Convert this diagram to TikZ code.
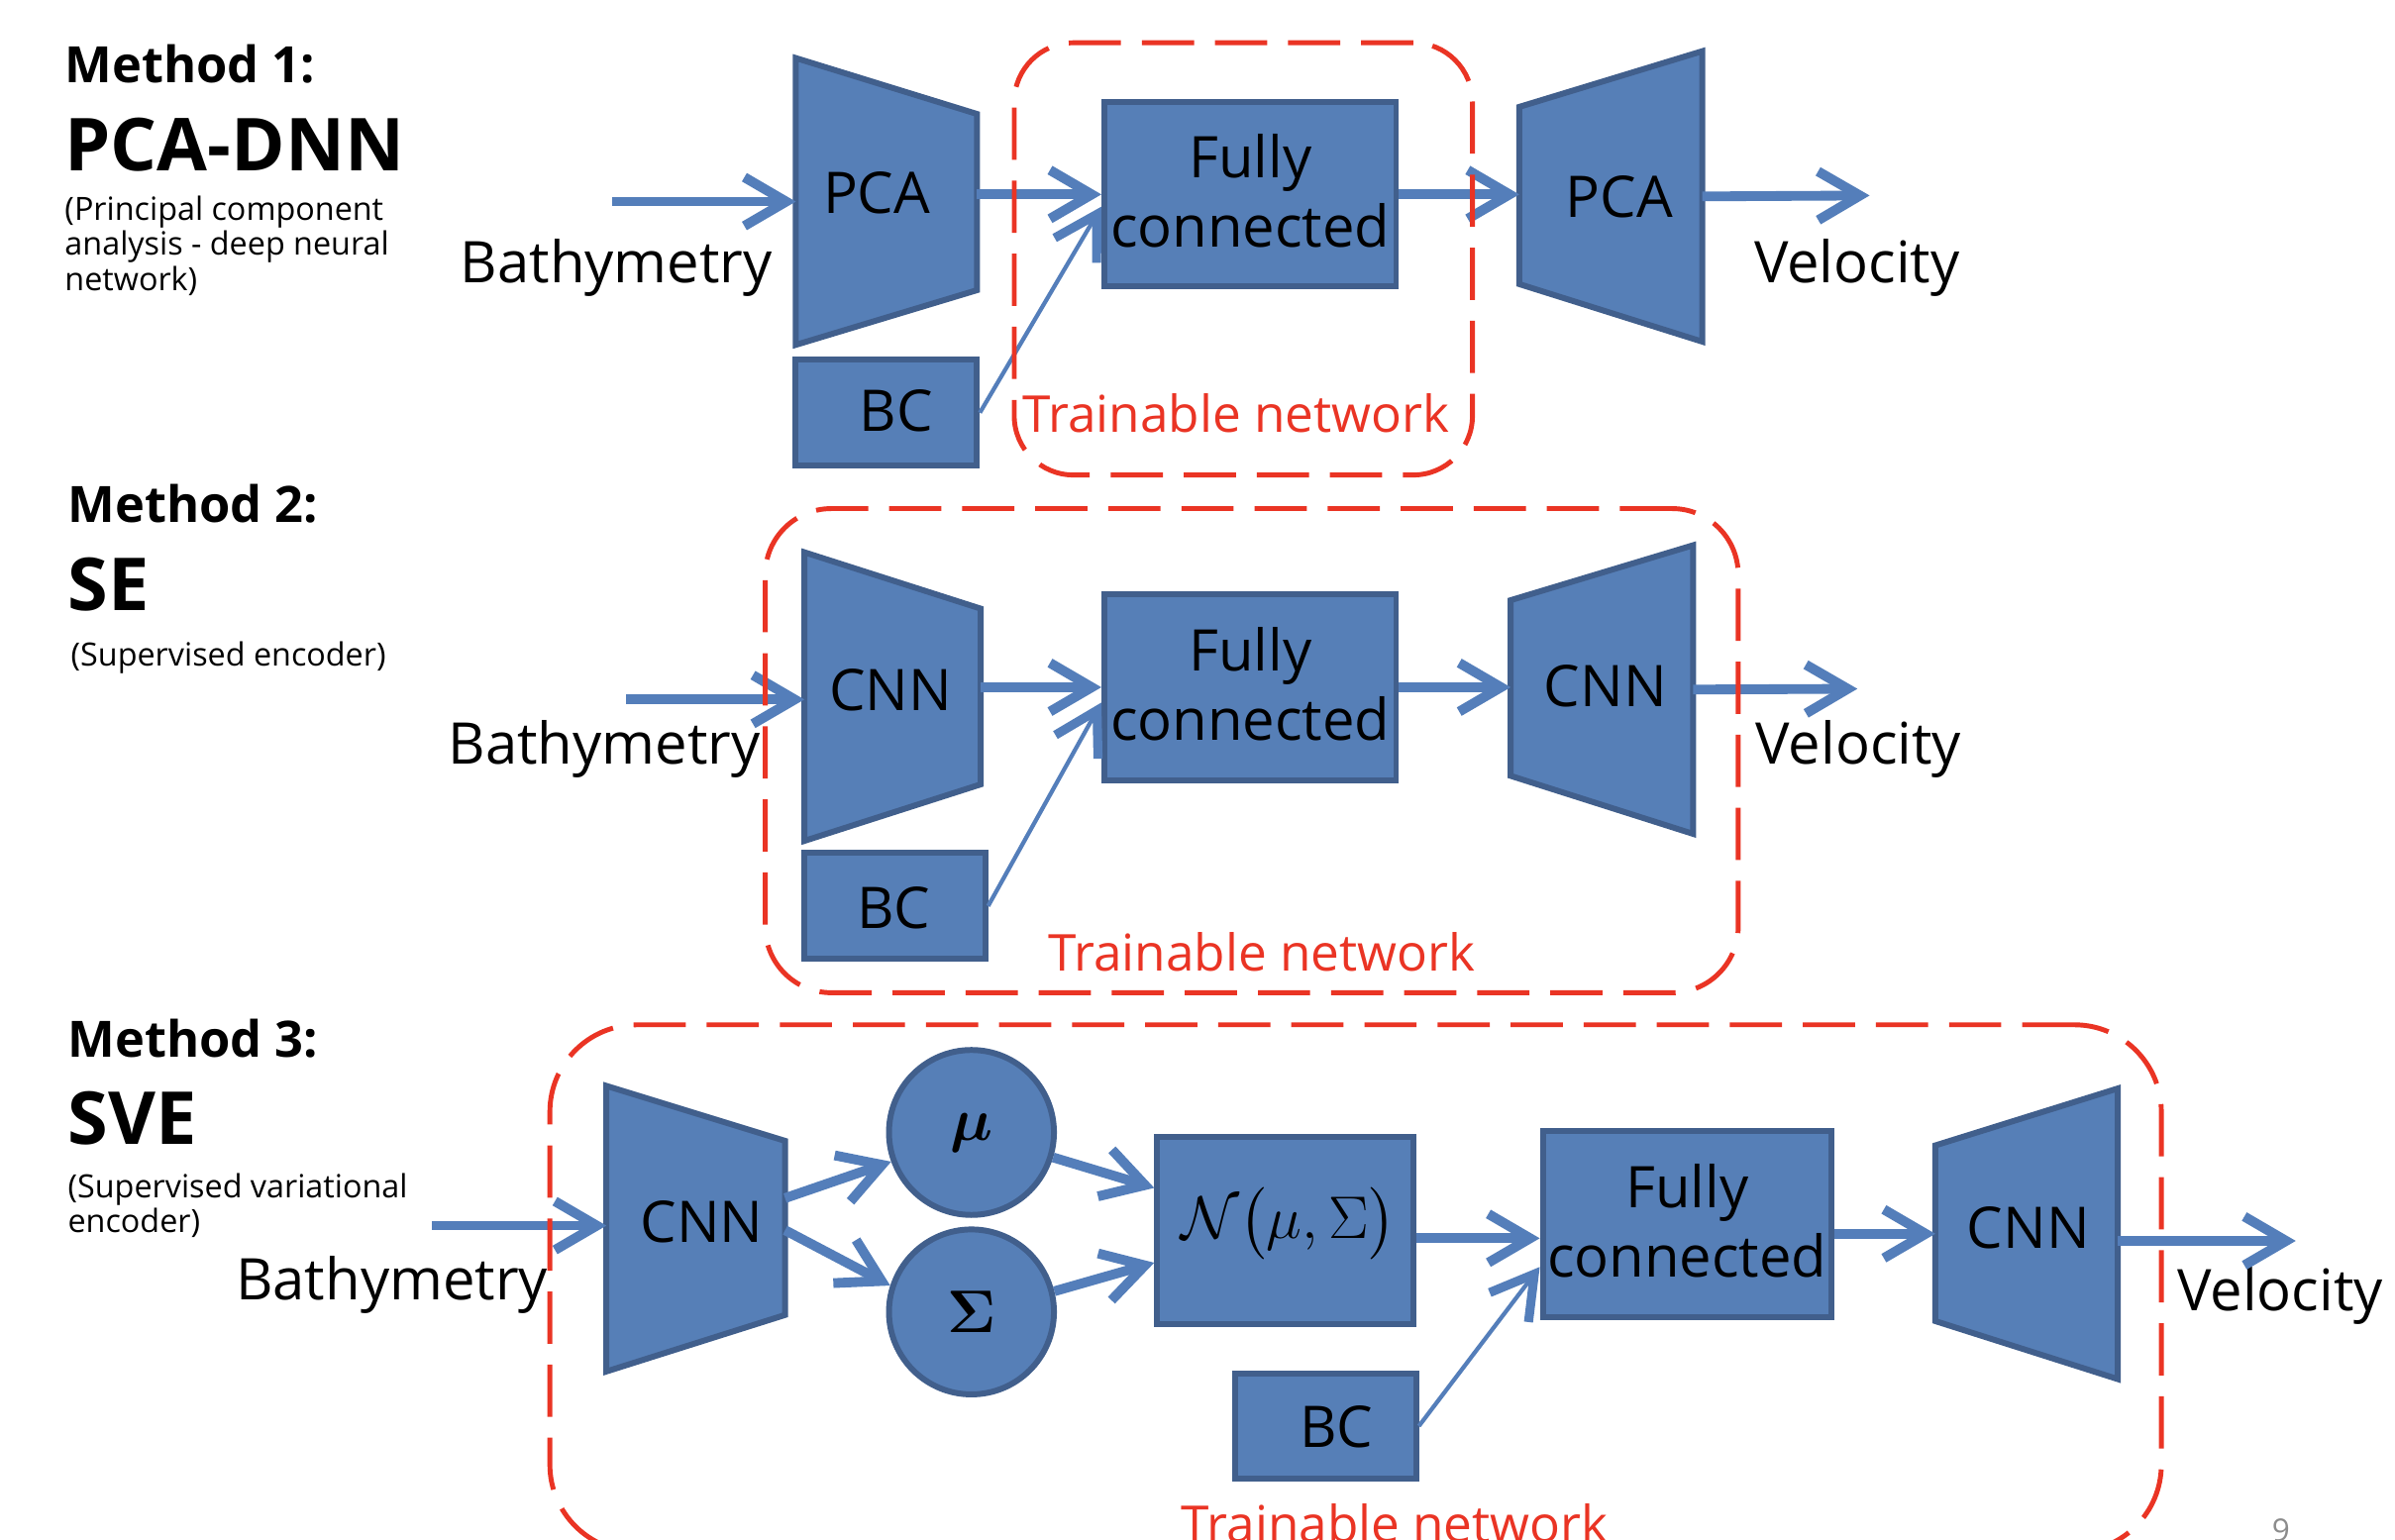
\documentclass[tikz,border=0pt]{standalone}
\usepackage{amsmath}
\usepackage{fontspec}
\setmainfont{Open Sans}
\usetikzlibrary{arrows.meta,calc,backgrounds,fit}

\newlength\uu \setlength\uu{0.01542cm}
\definecolor{bfill}{RGB}{86,127,183}
\definecolor{bline}{RGB}{65,95,140}
\definecolor{barrow}{RGB}{84,126,186}
\definecolor{tred}{RGB}{234,52,36}

\newcommand\lblf{\fontsize{16.5}{19.8}\selectfont}
\newcommand\trnf{\fontsize{14.6}{17}\selectfont}
\newcommand\hdf{\fontsize{14.4}{17}\selectfont\bfseries}
\newcommand\bigtf{\fontsize{21}{25}\selectfont\bfseries}
\newcommand\smf{\fontsize{9.2}{10.6}\selectfont}
\newcommand\mathf{\fontsize{17.5}{21}\selectfont}

\newcommand\encshape[3]{\begin{scope}[on background layer]\draw[shp] (#1.north west) -- ($(#1.north east)+(0,#2)$) -- ($(#1.south east)+(0,-#3)$) -- (#1.south west) -- cycle;\end{scope}}
\newcommand\decshape[3]{\begin{scope}[on background layer]\draw[shp] (#1.north east) -- (#1.south east) -- ($(#1.south west)+(0,-#3)$) -- ($(#1.north west)+(0,#2)$) -- cycle;\end{scope}}

\begin{document}
\begin{tikzpicture}[x=0.01542cm,y=-0.01542cm,
  shp/.style={draw=bline, fill=bfill, line width=1.7pt, line join=miter},
  boxn/.style={shp, rectangle, inner sep=0pt},
  trapn/.style={rectangle, inner sep=0pt, outer sep=0pt, draw=none},
  circn/.style={shp, circle, inner sep=0pt, minimum size=108\uu, font=\mathf},
  lbl/.style={font=\lblf, inner sep=0pt, text=black},
  lblb/.style={font=\lblf, inner sep=0pt, text=black, anchor=base},
  txt/.style={font=\lblf, inner sep=0pt, anchor=base west},
  redtxt/.style={font=\trnf, text=tred, inner sep=0pt, anchor=base west},
  hd/.style={font=\hdf, inner sep=0pt, anchor=base west},
  hdbig/.style={font=\bigtf, inner sep=0pt, anchor=base west},
  hdsmall/.style={font=\smf, inner sep=0pt, anchor=base west},
  trainbox/.style={draw=tred, line width=1.4pt, dash pattern=on 15pt off 6pt, inner sep=0pt, rectangle},
  arr/.style={draw=barrow, line width=2.8pt, -{Straight Barb[length=12pt,width=14pt]}},
  thinarr/.style={draw=barrow, line width=1.2pt, -{Straight Barb[length=12pt,width=14pt,line width=2.6pt]}}
]
\useasboundingbox (0,0) rectangle (1568,1008);
\begin{scope}[on background layer]
\fill[white] (0,0) rectangle (1568,1008);
\end{scope}

% ---------------- Method 1 ----------------
\node[hd] (m1a) at (42,54) {Method 1:};
\node[hdbig] (m1b) at (42,112) {PCA-DNN};
\node[hdsmall] (m1c) at (42,144) {(Principal component};
\node[hdsmall] (m1d) at (42,167) {analysis - deep neural};
\node[hdsmall] (m1e) at (42,190) {network)};

\node[trapn, fit={(521,38)(639.6,225.8)}] (enc1) {};
\encshape{enc1}{36.6}{35.8}
\node[lbl] (enc1t) at (574,126.5) {PCA};
\node[boxn, fit={(521,235.6)(639.6,304.8)}] (bc1) {};
\node[lbl] (bc1t) at (586.6,269) {BC};
\node[boxn, fit={(723,67)(914,187.6)}] (fc1) {};
\node[lblb] (fc1a) at ($(fc1)+(0,-10.8)$) {Fully};
\node[lblb] (fc1b) at ($(fc1)+(0,34.6)$) {connected};
\node[trapn, fit={(994.6,33.5)(1114.5,223.7)}] (dec1) {};
\decshape{dec1}{36.5}{37.7}
\node[lbl] (dec1t) at (1060,128.7) {PCA};

\node[txt] (bt1) at (301,185) {Bathymetry};
\node[txt] (vt1) at (1148,185) {Velocity};
\coordinate (b1s) at (401,132);
\coordinate (v1e) at (1224,128);
\draw[arr] (b1s) -- (b1s -| enc1.west);
\draw[arr] (enc1.east |- fc1.west) -- (fc1.west);
\draw[thinarr] (bc1.east) -- ($(fc1.west)+(0,8)$);
\draw[arr] (fc1.east) -- (fc1.east -| dec1.west);
\draw[arr] (dec1.east) -- (v1e);

% ---------------- Method 2 ----------------
\node[hd] (m2a) at (44,342) {Method 2:};
\node[hdbig] (m2b) at (44,400) {SE};
\node[hdsmall] (m2c) at (46,436) {(Supervised encoder)};

\node[trapn, fit={(526.6,361.6)(642,550.6)}] (enc2) {};
\encshape{enc2}{36.9}{37}
\node[lbl] (enc2t) at (583,451.7) {CNN};
\node[boxn, fit={(526.6,558.4)(645,628)}] (bc2) {};
\node[lbl] (bc2t) at (585,594.7) {BC};
\node[boxn, fit={(723,389)(914,511)}] (fc2) {};
\node[lblb] (fc2a) at ($(fc2)+(0,-10.8)$) {Fully};
\node[lblb] (fc2b) at ($(fc2)+(0,34.6)$) {connected};
\node[trapn, fit={(989,357)(1108.5,546)}] (dec2) {};
\decshape{dec2}{36}{38}
\node[lbl] (dec2t) at (1051,449) {CNN};

\node[txt] (bt2) at (293,500.5) {Bathymetry};
\node[txt] (vt2) at (1149,500) {Velocity};
\coordinate (b2s) at (410,458);
\coordinate (v2e) at (1216,451);
\draw[arr] (b2s) -- (b2s -| enc2.west);
\draw[arr] (enc2.east |- fc2.west) -- (fc2.west);
\draw[thinarr] (bc2.east) -- ($(fc2.west)+(0,10)$);
\draw[arr] (fc2.east) -- (fc2.east -| dec2.west);
\draw[arr] (dec2.east) -- (v2e);

% ---------------- Method 3 ----------------
\node[hd] (m3a) at (44,692) {Method 3:};
\node[hdbig] (m3b) at (44,749) {SVE};
\node[hdsmall] (m3c) at (44,784) {(Supervised variational};
\node[hdsmall] (m3d) at (44,807) {encoder)};

\node[trapn, fit={(397,711)(514,898)}] (enc3) {};
\encshape{enc3}{36}{37}
\node[lbl] (enc3t) at (459.5,800) {CNN};
\node[circn] (mu) at (636,741.5) {$\boldsymbol{\mu}$};
\node[circn] (sig) at (636,859) {$\boldsymbol{\Sigma}$};
\node[boxn, fit={(757.6,744.6)(925.3,867)}] (norm) {};
\node[inner sep=0pt, font=\mathf] (normt) at (843.6,801) {$\mathcal{N}\bigl(\mu,\Sigma\bigr)$};
\node[boxn, fit={(1010,740.5)(1199,862.6)}] (fc3) {};
\node[lblb] (fc3a) at ($(fc3)+(0,-10.8)$) {Fully};
\node[lblb] (fc3b) at ($(fc3)+(0,34.6)$) {connected};
\node[boxn, fit={(808.6,899.5)(927,968)}] (bc3) {};
\node[lbl] (bc3t) at (875,934) {BC};
\node[trapn, fit={(1267,712.7)(1386.5,903)}] (dec3) {};
\decshape{dec3}{37.3}{38}
\node[lbl] (dec3t) at (1328,804) {CNN};

\node[txt] (bt3) at (154,851) {Bathymetry};
\node[txt] (vt3) at (1425,858) {Velocity};
\coordinate (b3s) at (283,802.5);
\coordinate (v3e) at (1503,812.5);
\coordinate (n3a) at ($(norm.east)+(0,5)$);
\draw[arr] (b3s) -- (b3s -| enc3.west);
\draw[arr] ($(enc3.east)+(0,-20)$) -- (mu.200);
\draw[arr] ($(enc3.east)+(0,1)$) -- (sig.162);
\draw[arr] (mu.343) -- ($(norm.west)+(0,-28)$);
\draw[arr] (sig.14) -- ($(norm.west)+(0,21)$);
\draw[arr] (n3a) -- (n3a -| fc3.west);
\draw[thinarr] (bc3.east) -- ($(fc3.west)+(0,28)$);
\draw[arr] (dec3.west -| fc3.east) -- (dec3.west);
\draw[arr] (dec3.east |- v3e) -- (v3e);

% ---------------- trainable boxes ----------------
\node[trainbox, rounded corners=17pt, fit={(664,28)(964,311)}] (tn1) {};
\node[redtxt] (tn1t) at (669,283) {Trainable network};
\node[trainbox, rounded corners=19pt, fit={(501,333)(1138,650)}] (tn2) {};
\node[redtxt] (tn2t) at (686,636) {Trainable network};
\node[trainbox, rounded corners=25pt, fit={(360,671)(1415,1016)}] (tn3) {};
\node[redtxt] (tn3t) at (773,1010) {Trainable network};

\node[font=\fontsize{9}{10}\selectfont, text=black!45, inner sep=0pt, anchor=base west] (pg) at (1487,1009) {9};
\end{tikzpicture}
\end{document}
